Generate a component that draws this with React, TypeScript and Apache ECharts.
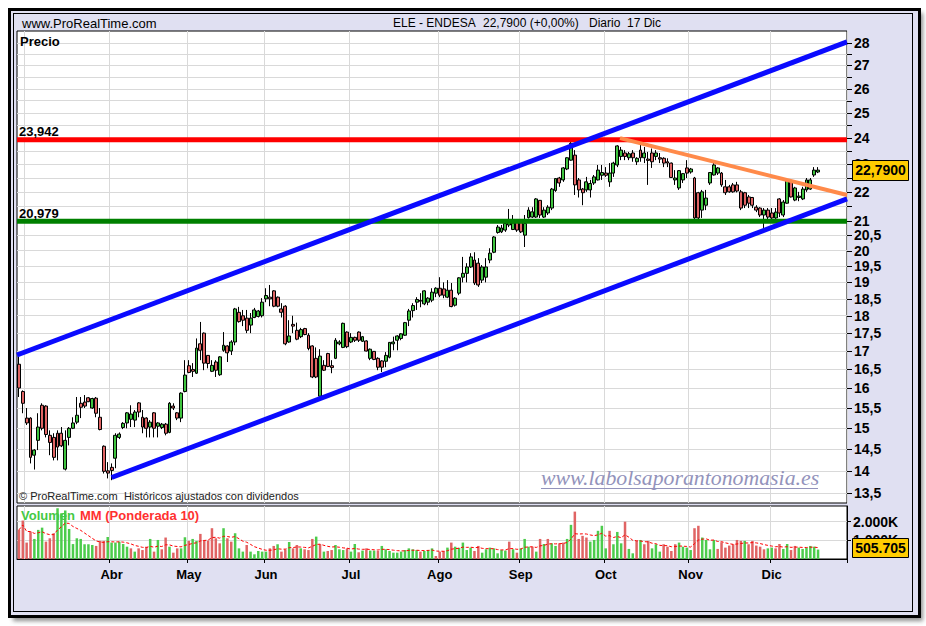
import React, { useEffect, useRef } from 'react';
import * as echarts from 'echarts';

// ---------- categories (trading days per month) ----------
const monthNames = ['Feb', 'Mar', 'Abr', 'May', 'Jun', 'Jul', 'Ago', 'Sep', 'Oct', 'Nov', 'Dic'];
const monthTradingDays = [2, 22, 20, 20, 22, 23, 21, 22, 22, 21, 13];
const labelledMonths = ['Abr', 'May', 'Jun', 'Jul', 'Ago', 'Sep', 'Oct', 'Nov', 'Dic'];
const gridMonths = ['Mar', 'Abr', 'May', 'Jun', 'Jul', 'Ago', 'Sep', 'Oct', 'Nov', 'Dic'];
const emptyTrailingSlots = 7;

// ---------- daily prices (EUR) ----------
const opens = [
  16.64, 15.92, 15.25, 15.25, 14.36, 14.71, 15.57, 15.55, 14.83, 14.78,
  14.88, 14.88, 14.04, 14.78, 15.0, 15.15, 15.62, 15.65, 15.76, 15.5,
  15.75, 15.27, 14.57, 14.0, 14.08, 14.29, 14.78, 15.02, 15.13, 15.22,
  15.2, 15.63, 15.27, 15.25, 15.03, 15.38, 15.05, 15.02, 15.1, 14.9,
  15.55, 15.38, 15.25, 15.92, 16.6, 16.5, 16.4, 17.2, 17.5, 16.88,
  16.45, 16.7, 16.36, 17.02, 17.14, 17.0, 17.25, 18.1, 18.0, 17.93,
  17.73, 17.95, 17.98, 18.0, 18.5, 18.55, 18.74, 18.55, 18.2, 18.28,
  17.25, 17.75, 17.58, 17.4, 17.63, 17.44, 17.14, 16.8, 15.8, 16.61,
  16.93, 16.6, 16.8, 17.2, 17.1, 17.53, 17.25, 17.38, 17.53, 17.27,
  17.28, 16.8, 16.99, 16.8, 16.73, 16.72, 16.83, 17.2, 17.3, 17.35,
  17.44, 17.87, 18.15, 18.4, 18.45, 18.35, 18.4, 18.46, 18.67, 18.82,
  18.8, 18.55, 18.76, 18.31, 18.67, 19.16, 19.28, 19.48, 19.7, 19.6,
  19.07, 19.16, 19.7, 19.95, 20.6, 20.62, 20.68, 20.85, 20.7, 20.95,
  21.0, 20.51, 21.1, 21.12, 21.12, 21.7, 21.12, 21.26, 21.43, 22.05,
  22.5, 22.43, 22.83, 23.16, 23.35, 22.43, 22.1, 22.07, 22.07, 22.32,
  22.43, 22.6, 22.68, 22.36, 22.68, 22.98, 23.3, 23.43, 23.25, 23.43,
  23.1, 23.54, 23.25, 23.2, 23.43, 23.3, 23.25, 23.23, 23.1, 23.05,
  22.43, 22.14, 22.43, 22.87, 22.72, 22.5, 21.97, 21.36, 21.53, 22.32,
  22.61, 22.68, 22.68, 22.18, 22.18, 22.25, 22.25, 22.0, 21.97, 21.82,
  21.8, 21.46, 21.43, 21.19, 21.36, 21.26, 21.09, 21.75, 21.19, 21.6,
  22.36, 21.71, 21.8, 21.75, 22.07, 22.1, 22.61, 22.72,
];
const highs = [
  16.84, 15.95, 15.5, 15.27, 14.5, 15.37, 15.62, 15.57, 14.95, 14.88,
  14.95, 15.03, 14.95, 15.03, 15.27, 15.78, 15.78, 15.83, 15.78, 15.76,
  15.78, 15.5, 14.59, 14.2, 14.17, 14.88, 14.9, 15.15, 15.4, 15.57,
  15.45, 15.65, 15.45, 15.27, 15.2, 15.4, 15.15, 15.13, 15.13, 15.65,
  15.62, 15.4, 15.9, 16.75, 16.75, 16.67, 17.35, 17.82, 17.52, 16.89,
  16.75, 16.75, 16.86, 17.53, 17.16, 17.3, 18.23, 18.26, 18.17, 18.17,
  18.08, 18.23, 18.17, 18.52, 18.82, 18.92, 18.76, 18.57, 18.37, 18.31,
  17.87, 18.0, 17.8, 17.65, 17.65, 17.5, 17.16, 17.1, 17.05, 16.75,
  16.95, 16.75, 17.36, 17.3, 17.8, 17.55, 17.5, 17.4, 17.55, 17.42,
  17.3, 17.07, 17.0, 16.83, 16.75, 16.97, 17.25, 17.4, 17.44, 17.5,
  17.82, 18.2, 18.37, 18.55, 18.67, 18.76, 18.55, 18.82, 18.85, 19.16,
  19.0, 19.07, 18.98, 18.55, 19.16, 19.8, 19.6, 19.92, 19.95, 19.76,
  19.54, 19.76, 20.08, 20.48, 20.85, 20.85, 21.02, 21.4, 21.19, 20.97,
  21.02, 21.19, 21.46, 21.46, 21.78, 21.71, 21.46, 21.53, 22.14, 22.5,
  22.54, 22.9, 23.27, 23.85, 23.54, 22.5, 22.14, 22.54, 22.43, 22.61,
  22.98, 22.98, 22.9, 23.05, 23.1, 23.73, 23.66, 23.54, 23.47, 23.54,
  23.27, 23.8, 23.66, 23.47, 23.6, 23.54, 23.43, 23.27, 23.23, 23.07,
  22.79, 22.79, 22.68, 23.16, 22.87, 22.54, 22.0, 22.07, 22.07, 22.72,
  23.1, 22.9, 22.72, 22.43, 22.25, 22.32, 22.36, 22.07, 22.0, 21.89,
  21.82, 21.53, 21.46, 21.43, 21.43, 21.43, 21.43, 21.78, 21.71, 22.5,
  22.43, 22.18, 22.0, 22.18, 22.5, 22.5, 22.9, 22.9,
];
const lows = [
  15.78, 15.37, 15.08, 14.17, 14.03, 14.48, 14.95, 14.78, 14.36, 14.24,
  14.24, 14.55, 14.01, 14.59, 14.98, 15.1, 15.25, 15.5, 15.65, 15.48,
  15.27, 14.95, 13.94, 13.83, 13.79, 14.06, 14.74, 14.98, 15.0, 15.03,
  15.03, 15.27, 14.88, 14.78, 14.78, 14.78, 14.78, 14.98, 14.83, 14.88,
  15.45, 15.2, 15.15, 15.9, 16.4, 16.3, 16.38, 16.75, 16.48, 16.53,
  16.43, 16.3, 16.33, 16.98, 16.7, 16.89, 17.16, 17.8, 17.7, 17.5,
  17.5, 17.93, 17.95, 17.95, 18.4, 18.28, 18.25, 18.25, 17.95, 17.16,
  17.23, 17.5, 17.3, 17.36, 17.44, 17.02, 16.27, 16.27, 15.78, 16.46,
  16.56, 16.4, 16.78, 17.16, 17.08, 17.08, 17.22, 17.25, 17.25, 17.25,
  16.99, 16.75, 16.75, 16.48, 16.43, 16.56, 16.8, 17.02, 17.02, 17.3,
  17.42, 17.7, 17.95, 18.17, 18.25, 18.31, 18.31, 18.4, 18.55, 18.55,
  18.52, 18.52, 18.25, 18.27, 18.61, 19.0, 19.0, 19.45, 18.92, 18.86,
  18.98, 19.0, 19.6, 19.92, 20.56, 20.58, 20.62, 20.78, 20.68, 20.62,
  20.58, 20.12, 21.07, 21.09, 21.09, 21.09, 21.09, 21.19, 21.36, 22.0,
  22.18, 22.36, 22.79, 23.14, 21.89, 21.8, 21.53, 22.0, 21.8, 22.25,
  22.41, 22.43, 22.54, 22.18, 22.54, 22.9, 23.16, 23.16, 23.16, 23.1,
  22.98, 23.1, 23.05, 22.25, 22.87, 23.16, 23.05, 22.9, 22.9, 22.5,
  22.25, 22.07, 22.32, 22.5, 22.66, 21.05, 21.05, 21.09, 21.36, 22.25,
  22.59, 22.61, 22.18, 21.89, 21.97, 21.97, 21.98, 21.36, 21.43, 21.43,
  21.43, 21.29, 21.12, 20.75, 21.02, 20.92, 21.02, 21.12, 21.12, 21.58,
  21.8, 21.67, 21.67, 21.71, 22.0, 22.07, 22.54, 22.68,
];
const closes = [
  16.01, 15.62, 15.13, 14.31, 14.48, 15.03, 15.0, 14.85, 14.66, 14.31,
  14.55, 14.58, 14.71, 15.0, 15.13, 15.32, 15.52, 15.55, 15.66, 15.74,
  15.37, 14.97, 13.99, 13.95, 14.01, 14.83, 14.86, 15.12, 15.38, 15.35,
  15.4, 15.4, 15.03, 15.0, 15.15, 15.0, 15.13, 15.1, 14.88, 15.62,
  15.5, 15.25, 15.88, 16.35, 16.42, 16.45, 17.08, 17.02, 16.67, 16.66,
  16.61, 16.48, 16.84, 17.16, 16.95, 17.25, 18.2, 17.83, 17.87, 17.58,
  17.93, 18.17, 18.14, 18.4, 18.6, 18.5, 18.28, 18.28, 18.1, 17.2,
  17.42, 17.7, 17.33, 17.6, 17.46, 17.07, 16.3, 16.3, 16.86, 16.48,
  16.58, 16.55, 17.3, 17.25, 17.78, 17.12, 17.38, 17.3, 17.3, 17.4,
  17.0, 17.05, 16.77, 16.56, 16.56, 16.88, 17.24, 17.25, 17.42, 17.48,
  17.8, 18.14, 18.3, 18.48, 18.43, 18.74, 18.52, 18.7, 18.82, 18.61,
  18.61, 18.76, 18.27, 18.52, 19.14, 19.28, 19.48, 19.8, 18.98, 18.92,
  19.48, 19.48, 19.92, 20.45, 20.78, 20.75, 20.9, 20.95, 20.92, 20.68,
  20.62, 20.9, 21.36, 21.3, 21.75, 21.19, 21.36, 21.46, 22.1, 22.48,
  22.32, 22.87, 23.25, 23.8, 22.25, 22.07, 21.97, 22.36, 22.3, 22.54,
  22.79, 22.7, 22.6, 22.68, 23.05, 23.7, 23.54, 23.3, 23.4, 23.25,
  23.23, 23.25, 23.43, 23.15, 23.1, 23.43, 23.2, 23.05, 23.05, 22.52,
  22.5, 22.77, 22.66, 22.68, 22.83, 21.09, 21.09, 22.0, 21.78, 22.7,
  22.98, 22.87, 22.25, 21.97, 22.0, 22.0, 22.03, 21.43, 21.53, 21.6,
  21.53, 21.36, 21.19, 21.36, 21.12, 21.09, 21.29, 21.26, 21.64, 22.43,
  21.82, 22.14, 21.85, 22.1, 22.43, 22.43, 22.79, 22.79,
];

// ---------- volume (thousands of shares) ----------
const volumes = [
  1560, 2060, 880, 1470, 1075, 1560, 1680, 930, 1110, 1380,
  2720, 2450, 2600, 1610, 800, 1110, 1075, 790, 790, 750,
  700, 970, 970, 1180, 880, 880, 930, 805, 660, 570,
  395, 570, 480, 660, 1075, 395, 1020, 520, 1150, 660,
  340, 570, 570, 1165, 970, 1075, 970, 1345, 1020, 985,
  1650, 1110, 840, 1650, 1110, 930, 1380, 570, 395, 750,
  395, 250, 430, 395, 395, 570, 700, 790, 395, 520,
  910, 570, 750, 570, 520, 480, 1075, 1200, 790, 395,
  430, 480, 750, 520, 480, 570, 395, 805, 360, 450,
  570, 450, 450, 430, 700, 520, 430, 340, 340, 395,
  480, 570, 520, 480, 395, 430, 480, 570, 160, 395,
  430, 610, 880, 660, 600, 880, 480, 610, 430, 700,
  340, 520, 610, 570, 305, 480, 450, 930, 520, 340,
  570, 1075, 660, 660, 395, 1075, 805, 1075, 840, 700,
  840, 880, 1075, 1830, 2540, 1075, 1240, 1150, 930, 1020,
  1510, 1780, 570, 1510, 790, 1450, 840, 2000, 540, 305,
  970, 1020, 790, 970, 570, 790, 395, 790, 660, 430,
  790, 880, 660, 610, 480, 1650, 1780, 1150, 1020, 520,
  1020, 540, 900, 610, 720, 790, 1020, 970, 970, 790,
  970, 720, 660, 520, 570, 610, 570, 805, 540, 805,
  480, 700, 610, 540, 610, 700, 660, 505.705,
];
const volumeUp = [
  0, 0, 0, 0, 1, 1, 1, 0, 0, 0,
  1, 1, 1, 1, 1, 1, 1, 1, 1, 1,
  0, 0, 0, 1, 1, 1, 1, 1, 1, 0,
  1, 0, 0, 0, 1, 0, 1, 0, 0, 1,
  0, 0, 1, 1, 0, 1, 1, 0, 0, 0,
  0, 0, 0, 1, 0, 0, 1, 1, 1, 0,
  1, 1, 1, 1, 1, 0, 0, 1, 0, 0,
  1, 0, 0, 1, 0, 0, 0, 1, 0, 1,
  0, 0, 1, 1, 1, 0, 1, 1, 0, 1,
  0, 1, 1, 0, 1, 1, 1, 1, 1, 1,
  1, 1, 1, 1, 0, 1, 1, 1, 0, 0,
  0, 1, 0, 1, 1, 1, 1, 1, 0, 0,
  1, 1, 1, 1, 1, 1, 1, 0, 1, 0,
  1, 1, 1, 0, 1, 0, 1, 0, 1, 1,
  0, 0, 1, 1, 0, 0, 0, 0, 1, 1,
  1, 1, 1, 0, 1, 1, 1, 0, 1, 1,
  0, 1, 0, 0, 1, 1, 1, 0, 0, 0,
  0, 1, 1, 1, 1, 0, 0, 1, 1, 1,
  1, 0, 0, 0, 0, 0, 0, 0, 1, 0,
  0, 0, 0, 0, 1, 1, 0, 0, 1, 1,
  0, 0, 1, 1, 1, 1, 1, 1,
];
const maPeriod = 10;

// ---------- axis ticks ----------
const priceGridValues = [
  13.5, 14, 14.5, 15, 15.5, 16, 16.5, 17, 17.5, 18, 18.5, 19, 19.5, 20, 20.5,
  21, 21.5, 22, 22.5, 23, 23.5, 24, 24.5, 25, 25.5, 26, 26.5, 27, 27.5, 28,
];
const priceLabelValues = [28, 27, 26, 25, 24, 23, 22, 21, 20.5, 20, 19.5, 19, 18.5, 18, 17.5, 17, 16.5, 16, 15.5, 15, 14.5, 14, 13.5];
const volumeLabelValues = [1000, 2000];

// ---------- drawn levels and trend lines ([slot, price]) ----------
const resistance = 23.942;
const support = 20.979;
const upperChannel = [[-0.5, 16.89], [214.5, 28.05]];
const lowerChannel = [[24, 13.85], [214.5, 21.75]];
const downTrend = [[155.7, 24.0], [214.5, 21.89]];
const lastPrice = 22.79;
const lastVolume = 505.705;

// ---------- derived ----------
const categories: string[] = [];
const monthAtIndex: Record<number, string> = {};
monthNames.forEach((m, k) => {
  monthAtIndex[categories.length] = m;
  for (let d = 1; d <= monthTradingDays[k]; d++) categories.push(`${m} ${d}`);
});
for (let j = 1; j <= emptyTrailingSlots; j++) categories.push(`+${j}`);
const slotCount = categories.length;

const isLabelled = (i: number) => labelledMonths.includes(monthAtIndex[i]);
const isGridMonth = (i: number) => gridMonths.includes(monthAtIndex[i]);

const wma = volumes.map((_, i) => {
  let num = 0;
  let den = 0;
  for (let k = 0; k < maPeriod && i - k >= 0; k++) {
    const w = maPeriod - k;
    num += w * volumes[i - k];
    den += w;
  }
  return +(num / den).toFixed(1);
});

const FONT = '"Liberation Sans", Arial, Helvetica, sans-serif';
const SERIF = '"Liberation Serif", "Times New Roman", serif';
const GRID = '#d9d9d9';
const UP = '#3fc43f';
const DOWN = '#e06464';
const VUP = '#4ccc4c';
const VDOWN = '#e06464';

const fmtComma = (v: number) => String(v).replace('.', ',');

function buildOption(): any {
  const levelLine = (y: number, color: string, width: number, z: number) => ({
    type: 'line', xAxisIndex: 1, yAxisIndex: 0, z, silent: true, symbol: 'none',
    data: [[-0.5, y], [slotCount - 0.5, y]],
    lineStyle: { color, width, cap: 'butt' },
  });
  const trend = (pts: number[][], color: string, width: number, z: number) => ({
    type: 'line', xAxisIndex: 1, yAxisIndex: 0, z, silent: true, symbol: 'none',
    data: pts, lineStyle: { color, width, cap: 'butt' },
  });
  return {
    animation: false,
    backgroundColor: 'transparent',
    grid: [
      { left: 17, top: 31, width: 830, height: 472, show: true, backgroundColor: '#fff', borderColor: '#000', borderWidth: 1, containLabel: false, outerBoundsMode: 'none' },
      { left: 17, top: 506, width: 830, height: 53, show: true, backgroundColor: '#fff', borderColor: '#000', borderWidth: 1, containLabel: false, outerBoundsMode: 'none' },
    ],
    xAxis: [
      {
        type: 'category', gridIndex: 0, data: categories, boundaryGap: true,
        axisLine: { show: false }, axisTick: { show: false }, axisLabel: { show: false },
        splitLine: { show: true, interval: (i: number) => isGridMonth(i), lineStyle: { color: GRID, width: 1 } },
      },
      { type: 'value', gridIndex: 0, min: -0.5, max: slotCount - 0.5, show: false },
      {
        type: 'category', gridIndex: 1, data: categories, boundaryGap: true,
        axisLine: { show: true, lineStyle: { color: '#000', width: 1 } },
        axisTick: { show: true, interval: (i: number) => isLabelled(i), length: 4, lineStyle: { color: '#000' } },
        axisLabel: {
          show: true, interval: (i: number) => isLabelled(i),
          formatter: (_v: string, i: number) => monthAtIndex[i] ?? '',
          fontSize: 13, fontWeight: 'bold', color: '#000', fontFamily: FONT, margin: 9,
        },
        splitLine: { show: true, interval: (i: number) => isGridMonth(i), lineStyle: { color: GRID, width: 1 } },
      },
    ],
    yAxis: [
      {
        type: 'log', logBase: 10, gridIndex: 0, min: 13.29, max: 28.55, position: 'right',
        axisLine: { show: false }, axisTick: { show: false }, axisLabel: { show: false },
        splitLine: { show: false }, minorTick: { show: false }, minorSplitLine: { show: false },
      },
      {
        type: 'value', gridIndex: 1, min: 0, max: 2840, position: 'right',
        axisLine: { show: true, lineStyle: { color: '#000' } },
        axisTick: { show: true, length: 4, customValues: volumeLabelValues, lineStyle: { color: '#000' } },
        axisLabel: {
          customValues: volumeLabelValues,
          formatter: (v: number) => (volumeLabelValues.includes(v) ? `${v / 1000}.000K` : ''),
          fontSize: 14, fontWeight: 'bold', color: '#000', fontFamily: FONT, margin: 6,
        },
        splitLine: { show: true, lineStyle: { color: GRID, width: 1 } },
      },
    ],
    series: [
      {
        type: 'candlestick', xAxisIndex: 0, yAxisIndex: 0, z: 2, silent: true, barWidth: 3.4,
        data: opens.map((o, i) => [o, closes[i], lows[i], highs[i]]),
        itemStyle: { color: UP, color0: DOWN, borderColor: '#000', borderColor0: '#000', borderWidth: 1 },
      },
      {
        type: 'line', xAxisIndex: 1, yAxisIndex: 0, z: 1, silent: true, symbol: 'none',
        data: [[-0.5, 20], [slotCount - 0.5, 20]], lineStyle: { opacity: 0, width: 0 },
        markLine: {
          z: 1, silent: true, symbol: 'none', label: { show: false },
          lineStyle: { color: GRID, width: 1, type: 'solid' },
          emphasis: { disabled: true },
          data: priceGridValues.map((v) => ({ yAxis: v })),
        },
      },
      levelLine(resistance, '#ff0000', 5, 3),
      levelLine(support, '#008000', 5, 3),
      trend(upperChannel, '#0a0aff', 5, 4),
      trend(lowerChannel, '#0a0aff', 5, 4),
      trend(downTrend, '#ff8a4a', 4, 4),
      {
        type: 'bar', xAxisIndex: 2, yAxisIndex: 1, z: 2, silent: true, barWidth: 2.5,
        data: volumes.map((v, i) => ({ value: v, itemStyle: { color: volumeUp[i] ? VUP : VDOWN } })),
      },
      {
        type: 'line', xAxisIndex: 2, yAxisIndex: 1, z: 3, silent: true, symbol: 'none',
        data: wma, lineStyle: { color: '#ff0000', width: 1, type: [3, 2] },
      },
    ],
  };
}

function T(text: string, x: number, y: number, size: number, o: any = {}) {
  const align = o.align ?? 'left';
  return {
    type: 'text', x, y, z: 100, silent: true,
    style: {
      text, fill: o.fill ?? '#000', fontSize: size, fontWeight: o.weight ?? 'normal',
      fontStyle: o.fontStyle ?? 'normal', fontFamily: o.family ?? FONT,
      align, verticalAlign: 'middle', textAlign: align, textVerticalAlign: 'middle',
    },
  };
}

function buildGraphics(chart: any) {
  const py = (v: number) => chart.convertToPixel({ seriesIndex: 2 }, [0, v])[1];
  const vy = (v: number) => chart.convertToPixel({ seriesIndex: 7 }, [0, v])[1];
  const els: any[] = [];
  // header
  els.push(T('www.ProRealTime.com', 22, 23, 13));
  els.push(T('ELE - ENDESA', 393, 23, 12));
  els.push(T(`${fmtComma(lastPrice)}00 (+0,00%)`, 483, 23, 12));
  els.push(T('Diario  17 Dic', 589, 23, 12));
  els.push(T('Precio', 20, 41, 13, { weight: 'bold' }));
  // levels labels
  els.push(T(fmtComma(resistance), 19, py(resistance) - 8, 13, { weight: 'bold' }));
  els.push(T(fmtComma(support), 19, py(support) - 8, 13, { weight: 'bold' }));
  // notes
  els.push(T('© ProRealTime.com  Históricos ajustados con dividendos', 19, 496, 11, { fill: '#222' }));
  els.push(T('www.labolsaporantonomasia.es', 541, 478, 21.8, { family: SERIF, fontStyle: 'italic', fill: '#9393bb' }));
  els.push({ type: 'line', z: 100, silent: true, shape: { x1: 541, y1: 488.5, x2: 818, y2: 488.5 }, style: { stroke: '#9393bb', lineWidth: 1 } });
  els.push(T('Volumen', 21, 515, 13, { weight: 'bold', fill: '#44c944' }));
  els.push(T('MM (Ponderada 10)', 80, 515, 13, { weight: 'bold', fill: '#ff3030' }));
  // price axis ticks and labels
  priceGridValues.forEach((v) => {
    const y = Math.round(py(v)) + 0.5;
    els.push({ type: 'line', z: 100, silent: true, shape: { x1: 847, y1: y, x2: 852, y2: y }, style: { stroke: '#000', lineWidth: 1 } });
  });
  priceLabelValues.forEach((v) => {
    els.push(T(fmtComma(v), 854, py(v), 14, { weight: 'bold' }));
  });
  // last price box
  const lp = py(lastPrice);
  els.push({ type: 'rect', z: 101, silent: true, shape: { x: 852.5, y: Math.round(lp - 10) + 0.5, width: 56, height: 20 }, style: { fill: '#ffcc00', stroke: '#000', lineWidth: 1 } });
  els.push({ ...T(`${fmtComma(lastPrice)}00`, 880.5, lp, 14, { weight: 'bold', align: 'center' }), z: 102 });
  // last volume box
  const lv = vy(lastVolume) - 2;
  els.push({ type: 'rect', z: 101, silent: true, shape: { x: 852.5, y: Math.round(lv - 10) + 0.5, width: 56, height: 19 }, style: { fill: '#ffcc00', stroke: '#000', lineWidth: 1 } });
  els.push({ ...T('505.705', 880.5, lv, 14, { weight: 'bold', align: 'center' }), z: 102 });
  return els;
}

export default function App() {
  const ref = useRef<HTMLDivElement>(null);
  useEffect(() => {
    if (!ref.current) return;
    const chart = echarts.init(ref.current, null, { renderer: 'svg' });
    chart.setOption(buildOption());
    chart.setOption({ graphic: { elements: buildGraphics(chart) } });
    return () => chart.dispose();
  }, []);
  return (
    <div style={{ position: 'fixed', left: 0, top: 0, width: 926, height: 626, background: '#fff', overflow: 'hidden' }}>
      <div style={{ position: 'absolute', left: 13, top: 13, width: 910, height: 608, background: '#8f8f8f', filter: 'blur(2px)' }} />
      <div style={{ position: 'absolute', left: 8, top: 8, width: 913, height: 610, boxSizing: 'border-box', border: '3px solid #000', background: '#e0e0f2' }} />
      <div style={{ position: 'absolute', left: 13, top: 13, width: 900, height: 599, boxSizing: 'border-box', border: '1px solid #000' }} />
      <div ref={ref} style={{ position: 'absolute', left: 0, top: 0, width: 926, height: 626 }} />
    </div>
  );
}
